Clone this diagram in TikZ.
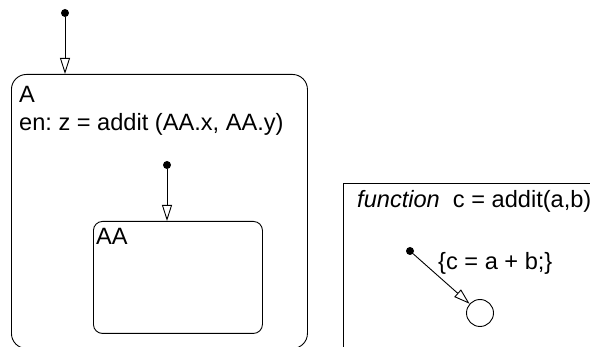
\documentclass[tikz,border=0pt]{standalone}
\usepackage{fontspec}
\setmainfont{Liberation Sans}
\usetikzlibrary{arrows.meta, positioning}
\frenchspacing

\begin{document}
\begin{tikzpicture}[x=1pt, y=-1pt, >={Triangle[open, length=16pt, width=10pt]},
  state/.style={draw, line width=0.9pt, anchor=north west, inner sep=0pt},
  dot/.style={circle, fill, inner sep=0pt, minimum size=8pt},
  lbl/.style={anchor=base west, inner sep=0pt, font=\fontsize{23.6}{28}\selectfont}]
  \useasboundingbox (0,0) rectangle (590,347);
  \clip (0,0) rectangle (590,347);
  % states
  \node[state, rounded corners=15pt, minimum width=296pt, minimum height=274pt] (A) at (11,74) {};
  \node[state, rounded corners=9pt, minimum width=169pt, minimum height=112pt] (AA) at (93,221) {};
  \node[state, minimum width=270pt, minimum height=200pt] (fn) at (343,183) {};
  % default transitions
  \node[dot] (initA) at (65,13) {};
  \node[dot] (initAA) at (167,165) {};
  \node[dot] (initfn) at (410,251) {};
  \node[circle, draw, line width=0.9pt, minimum size=27pt, inner sep=0pt] (junc) at (480,313) {};
  \draw[->, line width=0.9pt] (initA) -- (initA |- A.north);
  \draw[->, line width=0.9pt] (initAA) -- (initAA |- AA.north);
  \draw[->, line width=0.9pt] (initfn) -- (junc);
  % labels
  \node[lbl] (Aname) at (19,103) {A};
  \node[lbl] (Aentry) at (19,131) {en: z = addit (AA.x, AA.y)};
  \node[lbl] (AAname) at (96,245) {AA};
  \node[lbl] (fnsig) at (357,208) {\textit{function}\ \ c = addit(a,b)};
  \node[lbl] (fnbody) at (438,270) {\{c = a + b;\}};
\end{tikzpicture}
\end{document}
